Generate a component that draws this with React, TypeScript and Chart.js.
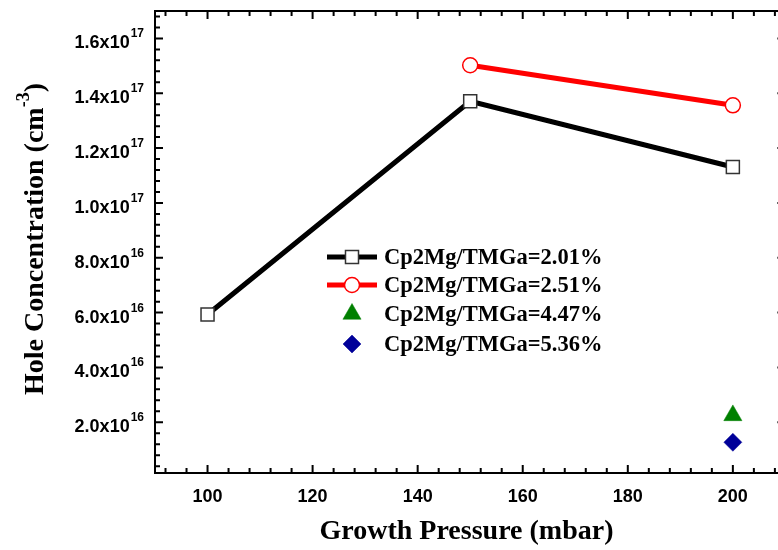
import React, { useEffect, useRef } from "react";
import { Chart, registerables } from "chart.js";
Chart.register(...registerables);

// ---- data ----
const pressure201 = [100, 150, 200];
const hole201 = [5.93e16, 1.371e17, 1.131e17];
const pressure251 = [150, 200];
const hole251 = [1.502e17, 1.356e17];
const pressure447 = [200];
const hole447 = [2.25e16];
const pressure536 = [200];
const hole536 = [1.27e16];

const seriesLabels = [
  "Cp2Mg/TMGa=2.01%",
  "Cp2Mg/TMGa=2.51%",
  "Cp2Mg/TMGa=4.47%",
  "Cp2Mg/TMGa=5.36%",
];

const xTickValues = [100, 120, 140, 160, 180, 200];
const yTickValues = [2e16, 4e16, 6e16, 8e16, 1.0e17, 1.2e17, 1.4e17, 1.6e17];
const yTickMantissa = ["2.0", "4.0", "6.0", "8.0", "1.0", "1.2", "1.4", "1.6"];
const yTickExponent = ["16", "16", "16", "16", "17", "17", "17", "17"];

const xTitle = "Growth Pressure (mbar)";
const yTitleMain = "Hole Concentration (cm";
const yTitleSup = "-3";
const yTitleEnd = ")";

const pts = (xs: number[], ys: number[]) => xs.map((x, i) => ({ x, y: ys[i] }));

const SANS = "'Liberation Sans', Arial, sans-serif";
const SERIF = "'Liberation Serif', 'Times New Roman', serif";

const axesPlugin = {
  id: "originAxes",
  beforeDatasetsDraw(chart: any) {
    const { ctx, chartArea, scales } = chart;
    const xs = scales.x;
    const ys = scales.y;
    const { left, right, top, bottom } = chartArea;
    ctx.save();
    ctx.strokeStyle = "#000";
    ctx.lineWidth = 2;
    ctx.beginPath();
    ctx.rect(left, top, right - left, bottom - top);
    ctx.stroke();

    const MAJ = 8;
    const MIN = 5;
    ctx.lineWidth = 2;
    // x ticks
    for (let v = 92; v <= 210; v += 4) {
      const px = xs.getPixelForValue(v);
      const major = v % 20 === 0;
      const len = major ? MAJ : MIN;
      ctx.beginPath();
      ctx.moveTo(px, bottom);
      ctx.lineTo(px, bottom - len);
      ctx.moveTo(px, top);
      ctx.lineTo(px, top + len);
      ctx.stroke();
    }
    // y ticks
    for (let k = 1; k <= 42; k++) {
      const v = k * 0.4e16;
      if (v > ys.max) break;
      const py = ys.getPixelForValue(v);
      const major = k % 5 === 0;
      const len = major ? MAJ : MIN;
      ctx.beginPath();
      ctx.moveTo(left, py);
      ctx.lineTo(left + len, py);
      ctx.moveTo(right, py);
      ctx.lineTo(right - len, py);
      ctx.stroke();
    }

    // x tick labels
    ctx.fillStyle = "#000";
    ctx.font = `bold 18px ${SANS}`;
    ctx.textAlign = "center";
    ctx.textBaseline = "middle";
    xTickValues.forEach((v) => {
      ctx.fillText(String(v), xs.getPixelForValue(v), bottom + 24);
    });

    // y tick labels with superscript
    yTickValues.forEach((v, i) => {
      const py = ys.getPixelForValue(v);
      ctx.font = `bold 12px ${SANS}`;
      const expW = ctx.measureText(yTickExponent[i]).width;
      const expRight = left - 11;
      ctx.textAlign = "left";
      ctx.textBaseline = "alphabetic";
      ctx.fillText(yTickExponent[i], expRight - expW, py - 1);
      ctx.font = `bold 18px ${SANS}`;
      ctx.textAlign = "right";
      ctx.fillText(yTickMantissa[i] + "x10", expRight - expW - 1, py + 10);
    });

    // x title
    ctx.font = `bold 28px ${SERIF}`;
    ctx.textAlign = "center";
    ctx.textBaseline = "middle";
    ctx.fillText(xTitle, (left + 778) / 2, bottom + 59);

    // y title (rotated) with superscript
    ctx.save();
    ctx.translate(33, 239);
    ctx.rotate(-Math.PI / 2);
    ctx.textBaseline = "alphabetic";
    ctx.textAlign = "left";
    ctx.font = `bold 28px ${SERIF}`;
    const w1 = ctx.measureText(yTitleMain).width;
    const w3 = ctx.measureText(yTitleEnd).width;
    ctx.font = `bold 18px ${SERIF}`;
    const w2 = ctx.measureText(yTitleSup).width;
    const total = w1 + w2 + w3;
    let x0 = -total / 2;
    ctx.font = `bold 28px ${SERIF}`;
    ctx.fillText(yTitleMain, x0, 10);
    x0 += w1;
    ctx.font = `bold 18px ${SERIF}`;
    ctx.fillText(yTitleSup, x0, -4);
    x0 += w2;
    ctx.font = `bold 28px ${SERIF}`;
    ctx.fillText(yTitleEnd, x0, 10);
    ctx.restore();

    ctx.restore();
  },
  afterDraw(chart: any) {
    const { ctx } = chart;
    const rows = [257, 285, 314, 344];
    const sx0 = 327;
    const sx1 = 377;
    const mx = 352;
    ctx.save();
    chart.data.datasets.forEach((ds: any, i: number) => {
      const y = rows[i];
      if (ds.showLine !== false) {
        ctx.strokeStyle = ds.borderColor;
        ctx.lineWidth = ds.borderWidth;
        ctx.beginPath();
        ctx.moveTo(sx0, y);
        ctx.lineTo(sx1, y);
        ctx.stroke();
      }
      ctx.fillStyle = ds.pointBackgroundColor;
      ctx.strokeStyle = ds.pointBorderColor;
      ctx.lineWidth = ds.pointBorderWidth;
      const r = ds.pointRadius;
      ctx.beginPath();
      if (ds.pointStyle === "rect") {
        const s = Math.SQRT1_2 * r;
        ctx.rect(mx - s, y - s, 2 * s, 2 * s);
      } else if (ds.pointStyle === "circle") {
        ctx.arc(mx, y, r, 0, Math.PI * 2);
      } else if (ds.pointStyle === "triangle") {
        ctx.moveTo(mx, y - r);
        ctx.lineTo(mx + Math.sin((2 * Math.PI) / 3) * r, y + r / 2);
        ctx.lineTo(mx - Math.sin((2 * Math.PI) / 3) * r, y + r / 2);
        ctx.closePath();
      } else if (ds.pointStyle === "rectRot") {
        ctx.moveTo(mx - r, y);
        ctx.lineTo(mx, y - r);
        ctx.lineTo(mx + r, y);
        ctx.lineTo(mx, y + r);
        ctx.closePath();
      }
      ctx.fill();
      ctx.stroke();
      ctx.fillStyle = "#000";
      ctx.font = `bold 22.5px ${SERIF}`;
      ctx.textAlign = "left";
      ctx.textBaseline = "middle";
      ctx.fillText(ds.label, 384, y + 1);
    });
    ctx.restore();
  },
};

export default function App() {
  const ref = useRef<HTMLCanvasElement | null>(null);
  useEffect(() => {
    if (!ref.current) return;
    const chart = new Chart(ref.current, {
      type: "scatter",
      data: {
        datasets: [
          {
            label: seriesLabels[0],
            data: pts(pressure201, hole201),
            showLine: true,
            borderColor: "#000000",
            borderWidth: 5,
            pointStyle: "rect",
            pointRadius: 9.2,
            pointHoverRadius: 9.2,
            pointBackgroundColor: "#ffffff",
            pointBorderColor: "#333333",
            pointBorderWidth: 1.5,
          },
          {
            label: seriesLabels[1],
            data: pts(pressure251, hole251),
            showLine: true,
            borderColor: "#ff0000",
            borderWidth: 5,
            pointStyle: "circle",
            pointRadius: 7.5,
            pointHoverRadius: 7.5,
            pointBackgroundColor: "#ffffff",
            pointBorderColor: "#ff0000",
            pointBorderWidth: 1.5,
          },
          {
            label: seriesLabels[2],
            data: pts(pressure447, hole447),
            showLine: false,
            borderColor: "#008000",
            borderWidth: 0,
            pointStyle: "triangle",
            pointRadius: 10.5,
            pointHoverRadius: 10.5,
            pointBackgroundColor: "#008000",
            pointBorderColor: "#008000",
            pointBorderWidth: 0.5,
          },
          {
            label: seriesLabels[3],
            data: pts(pressure536, hole536),
            showLine: false,
            borderColor: "#000099",
            borderWidth: 0,
            pointStyle: "rectRot",
            pointRadius: 9,
            pointHoverRadius: 9,
            pointBackgroundColor: "#000099",
            pointBorderColor: "#000099",
            pointBorderWidth: 0.5,
          },
        ],
      },
      options: {
        animation: false,
        responsive: false,
        maintainAspectRatio: false,
        layout: { padding: { left: 155, top: 10, right: 14.6, bottom: 77 } },
        scales: {
          x: { type: "linear", min: 90, max: 210, display: false },
          y: { type: "linear", min: 1.5e15, max: 1.7e17, display: false },
        },
        plugins: {
          legend: { display: false },
          tooltip: { enabled: false },
        },
        events: [],
      },
      plugins: [axesPlugin],
    });
    return () => chart.destroy();
  }, []);
  return (
    <div
      style={{
        position: "absolute",
        left: 0,
        top: 0,
        width: 778,
        height: 550,
        overflow: "hidden",
        background: "#fff",
      }}
    >
      <canvas ref={ref} width={800} height={550} style={{ display: "block", width: 800, height: 550 }} />
    </div>
  );
}
